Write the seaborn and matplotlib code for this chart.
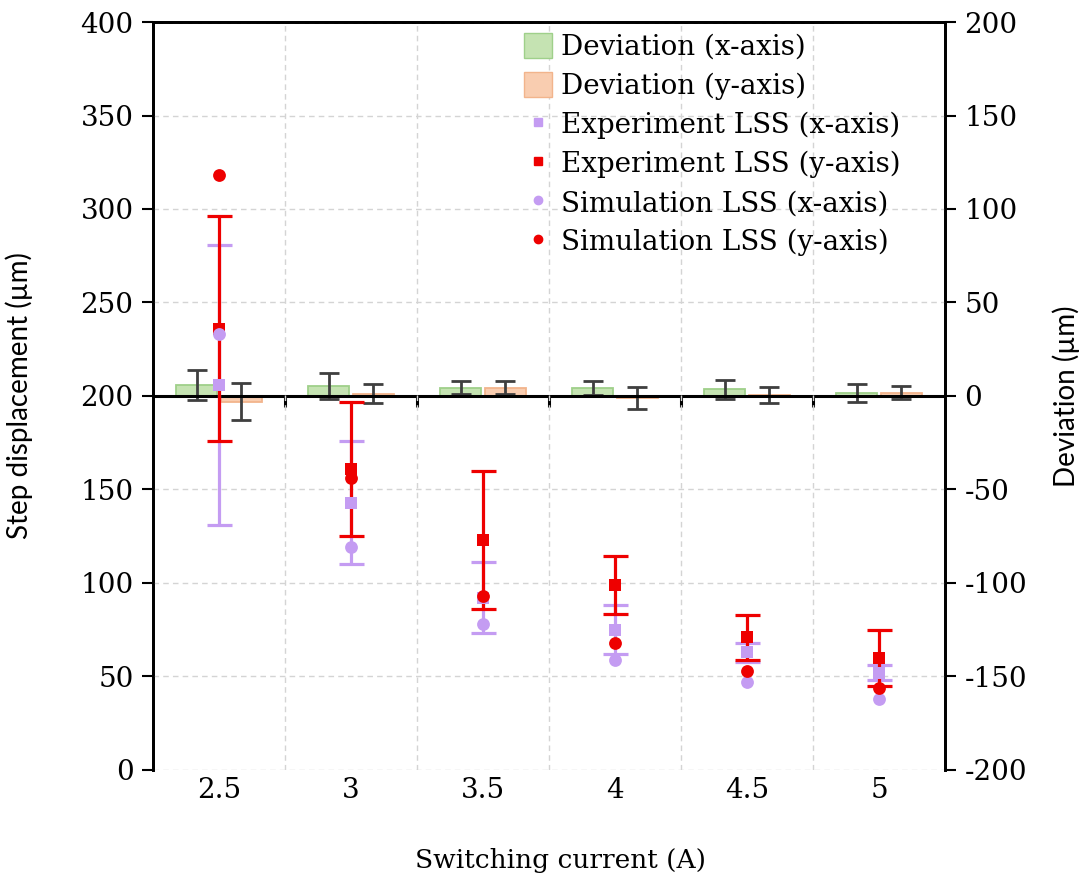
import numpy as np
import pandas as pd
import matplotlib
matplotlib.use("Agg")
import matplotlib.pyplot as plt
import seaborn as sns
from matplotlib.patches import Patch
from matplotlib.lines import Line2D

# Switching current categories (A)
currents = ["2.5", "3", "3.5", "4", "4.5", "5"]

# Deviation between experiment and simulation (µm), right axis
dev_x = [5.8, 5.2, 4.5, 4.2, 3.5, 1.5]
dev_x_err = [7.9, 7.0, 3.5, 3.6, 5.0, 4.7]
dev_y = [-3.0, 1.3, 4.5, -1.0, 0.7, 1.8]
dev_y_err = [9.9, 4.9, 3.5, 6.0, 4.3, 3.4]

# Step displacement (µm), left axis
exp_x = [206, 143, 92, 75, 63, 52]
exp_x_err = [75, 33, 19, 13, 5, 4]
exp_y = [236, 161, 123, 99, 71, 60]
exp_y_err = [60, 36, 37, 15.5, 12, 15]
sim_x = [233, 119, 78, 59, 47, 38]
sim_y = [318, 156, 93, 68, 53, 44]

green, green_edge = "#c5e3b2", "#9fd08a"
orange, orange_edge = "#f9cdb0", "#f2b48c"
purple = "#c49cf2"
red = "#ee0000"
err_grey = "#3f3f3f"

sns.set_theme(style="white")
serif = ["DejaVu Serif"]
sans_label = ["Lato", "DejaVu Sans"]
plt.rcParams["font.family"] = serif
plt.rcParams["text.color"] = "black"
plt.rcParams["axes.labelcolor"] = "black"
plt.rcParams["axes.unicode_minus"] = False

fig = plt.figure(figsize=(10.81, 8.84), dpi=100)
ax = fig.add_axes([0.1415, 0.129, 0.7327, 0.8461])
ax2 = ax.twinx()

pos = np.arange(len(currents))

# --- deviation bars on the secondary axis ---
dev = pd.DataFrame({
    "current": currents * 2,
    "axis": ["Deviation (x-axis)"] * len(currents) + ["Deviation (y-axis)"] * len(currents),
    "deviation": dev_x + dev_y,
})
sns.barplot(data=dev, x="current", y="deviation", hue="axis", order=currents,
            palette=[green, orange], width=0.68, gap=0.1, errorbar=None,
            legend=False, ax=ax2, linewidth=1.3, saturation=1)
for cont, edge, vals, errs in zip(ax2.containers, [green_edge, orange_edge],
                                  [dev_x, dev_y], [dev_x_err, dev_y_err]):
    centers = []
    for b in cont:
        b.set_edgecolor(edge)
        centers.append(b.get_x() + b.get_width() / 2)
    ax2.errorbar(centers, vals, yerr=errs, fmt="none", ecolor=err_grey,
                 elinewidth=2, capsize=7, capthick=2, zorder=4)

# category axis crossing at zero deviation
ax2.axhline(0, color="black", lw=2.2, zorder=5)
ax2.vlines(pos[:-1] + 0.5, -6, 0, color="black", lw=2.2, zorder=5)

ax2.set_ylim(-200, 200)
ax2.set_yticks(np.arange(-200, 201, 50))
ax2.set_ylabel("Deviation (µm)", family=sans_label, fontsize=20)
ax2.yaxis.set_label_coords(1.135, 0.5)
ax2.tick_params(axis="y", direction="out", length=8, width=1.5, pad=6,
                labelsize=20, right=True, colors="black")
ax2.set_xlabel("")

# --- step displacement points on the primary axis ---
ax.set_zorder(ax2.get_zorder() + 1)
ax.patch.set_visible(False)

ax.errorbar(pos, exp_x, yerr=exp_x_err, fmt="none", ecolor=purple,
            elinewidth=2.3, capsize=9, capthick=2.3, zorder=3)
ax.errorbar(pos, exp_y, yerr=exp_y_err, fmt="none", ecolor=red,
            elinewidth=2.3, capsize=9, capthick=2.3, zorder=3)
marker_size = 85
sns.scatterplot(x=pos, y=exp_x, marker="s", color=purple, s=marker_size, linewidth=0, ax=ax, zorder=4)
sns.scatterplot(x=pos, y=exp_y, marker="s", color=red, s=marker_size, linewidth=0, ax=ax, zorder=4)
sns.scatterplot(x=pos, y=sim_x, marker="o", color=purple, s=marker_size, linewidth=0, ax=ax, zorder=4)
sns.scatterplot(x=pos, y=sim_y, marker="o", color=red, s=marker_size, linewidth=0, ax=ax, zorder=4)

ax.set_xlim(-0.5, len(currents) - 0.5)
ax.set_ylim(0, 400)
ax.set_yticks(np.arange(0, 401, 50))
ax.set_xticks(pos, currents)
ax.set_xticks(pos[:-1] + 0.5, minor=True)
ax.tick_params(axis="y", direction="out", length=8, width=1.5, pad=6,
               labelsize=20, left=True, colors="black")
ax.tick_params(axis="x", which="both", length=0, pad=5, labelsize=20, colors="black")

grid_style = dict(color="#d4d4d4", lw=1, ls=(0, (4, 3)))
ax.yaxis.grid(True, **grid_style)
ax.xaxis.grid(True, which="minor", **grid_style)
ax.xaxis.grid(False, which="major")
ax2.grid(False)
# the zero-deviation axis line replaces the 200 µm gridline
for tick_val, gl in zip(ax.get_yticks(), ax.yaxis.get_gridlines()):
    if tick_val == 200:
        gl.set_visible(False)

for a in (ax, ax2):
    for side in ("left", "right", "top"):
        a.spines[side].set_color("black")
        a.spines[side].set_linewidth(2)
    a.spines["bottom"].set_visible(False)

ax.set_ylabel("Step displacement (µm)", family=sans_label, fontsize=20)
ax.yaxis.set_label_coords(-0.151, 0.5)
ax.set_xlabel("Switching current (A)", fontsize=19)
ax.xaxis.set_label_coords(0.515, -0.105)

handles = [
    Patch(facecolor=green, edgecolor=green_edge, label="Deviation (x-axis)"),
    Patch(facecolor=orange, edgecolor=orange_edge, label="Deviation (y-axis)"),
    Line2D([], [], ls="none", marker="s", markersize=6, color=purple, label="Experiment LSS (x-axis)"),
    Line2D([], [], ls="none", marker="s", markersize=6, color=red, label="Experiment LSS (y-axis)"),
    Line2D([], [], ls="none", marker="o", markersize=6, color=purple, label="Simulation LSS (x-axis)"),
    Line2D([], [], ls="none", marker="o", markersize=6, color=red, label="Simulation LSS (y-axis)"),
]
ax.legend(handles=handles, loc="upper left", bbox_to_anchor=(0.455, 1.0),
          frameon=False, fontsize=20, labelspacing=0.4, handlelength=1.0,
          handleheight=1.0, handletextpad=0.3, borderaxespad=0)

fig.savefig("out.png", dpi=100)
